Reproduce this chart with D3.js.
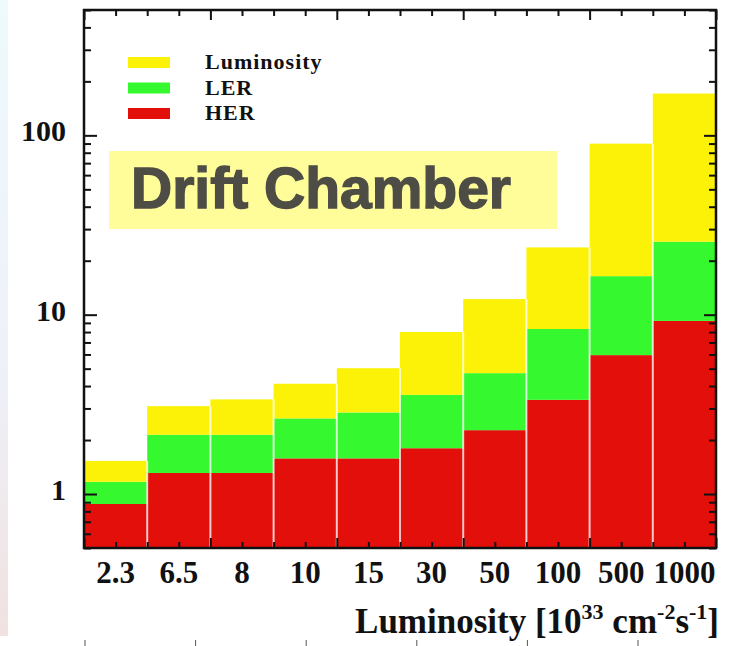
<!DOCTYPE html>
<html>
<head>
<meta charset="utf-8">
<style>
  body { margin: 0; background: #fff; }
  svg { display: block; }
  .serif { font-family: "Liberation Serif", "Times New Roman", serif; font-weight: bold; fill: #111; }
</style>
</head>
<body>
<svg width="729" height="646"></svg>
<script src="https://cdn.jsdelivr.net/npm/d3@7"></script>
<script>
// luminosity points (10^33 cm^-2 s^-1)
var categories = ["2.3", "6.5", "8", "10", "15", "30", "50", "100", "500", "1000"];
// contribution of each source, stacked HER -> LER -> Luminosity
var her  = [0.88, 1.31, 1.31, 1.58, 1.58, 1.80, 2.27, 3.35, 5.95, 9.23];
var ler  = [0.29, 0.83, 0.83, 1.06, 1.27, 1.77, 2.45, 4.97, 10.45, 16.3];
var lumi = [0.36, 0.95, 1.23, 1.48, 2.18, 4.44, 7.5, 15.4, 73.5, 145.5];
var yMajor = [1, 10, 100];
var seriesNames = ["HER", "LER", "Luminosity"];
var legendOrder = ["Luminosity", "LER", "HER"];

var colors = {HER: "#e20f0b", LER: "#35f82f", Luminosity: "#fbf208"};

var svg = d3.select("svg");
var pLeft = 84, pRight = 716, pTop = 10, pBottom = 548;

// screenshot leftovers: soft strip on the left and a ruler at the bottom
var grad = svg.append("defs").append("linearGradient")
    .attr("id", "strip").attr("x1", 0).attr("y1", 0).attr("x2", 0).attr("y2", 1);
grad.append("stop").attr("offset", "0%").attr("stop-color", "#eefafc");
grad.append("stop").attr("offset", "60%").attr("stop-color", "#eef0f8");
grad.append("stop").attr("offset", "100%").attr("stop-color", "#f0e2e0");
svg.append("rect").attr("x", 0).attr("y", 0).attr("width", 8).attr("height", 636)
    .attr("fill", "url(#strip)");
var ruler = d3.scaleLinear().domain([0, 5]).range([85, 638]);
svg.append("g").selectAll("line").data(d3.range(6)).enter().append("line")
    .attr("x1", function(d) { return ruler(d); }).attr("x2", function(d) { return ruler(d); })
    .attr("y1", 640).attr("y2", 646)
    .attr("stroke", "#555").attr("stroke-width", 1);

var data = categories.map(function(c, i) {
  return {cat: c, HER: her[i], LER: ler[i], Luminosity: lumi[i]};
});
var stacked = d3.stack().keys(seriesNames)(data);

var x = d3.scaleBand().domain(categories).range([pLeft, pRight]).padding(0);
var y = d3.scaleLog().domain([0.5, 500]).range([pBottom, pTop]).clamp(true);
var xt = d3.scaleLinear().domain([0, 20]).range([pLeft, pRight]);

// bars
svg.append("g").selectAll("g")
  .data(stacked)
  .enter().append("g")
    .attr("fill", function(d) { return colors[d.key]; })
  .selectAll("rect")
  .data(function(d) { return d; })
  .enter().append("rect")
    .attr("x", function(d) { return x(d.data.cat); })
    .attr("width", x.bandwidth())
    .attr("y", function(d) { return y(d[1]); })
    .attr("height", function(d) { return y(d[0]) - y(d[1]); });

// thin light gaps between neighbouring bars
var totals = stacked[stacked.length - 1];
svg.append("g").selectAll("line")
  .data(categories.slice(1))
  .enter().append("line")
    .attr("x1", function(d) { return x(d); })
    .attr("x2", function(d) { return x(d); })
    .attr("y1", pBottom)
    .attr("y2", function(d, i) { return y(Math.min(totals[i][1], totals[i + 1][1])); })
    .attr("stroke", "#fff").attr("stroke-opacity", 0.75).attr("stroke-width", 2);

// inward ticks on all four sides
var minor = y.ticks().filter(function(v) { return yMajor.indexOf(v) < 0; });
function ticksG(axis, tx) {
  var g = svg.append("g").attr("transform", tx).call(axis);
  g.select(".domain").remove();
  g.selectAll(".tick line").attr("stroke", "#111").attr("stroke-width", 2);
  return g;
}
ticksG(d3.axisLeft(y).tickValues(minor).tickSize(-7).tickFormat(""), "translate(" + pLeft + ",0)");
ticksG(d3.axisRight(y).tickValues(minor).tickSize(-7).tickFormat(""), "translate(" + pRight + ",0)");
ticksG(d3.axisRight(y).tickValues(yMajor).tickSize(-12).tickFormat(""), "translate(" + pRight + ",0)");
var yl = ticksG(d3.axisLeft(y).tickValues(yMajor).tickSize(-13).tickPadding(18).tickFormat(d3.format("d")),
    "translate(" + pLeft + ",0)");
yl.selectAll("text").attr("class", "serif").attr("font-size", 30).attr("dy", "5.5")
    .attr("font-family", null);

var xMinor = d3.range(21).filter(function(v) { return v % 4; });
var xMajor = d3.range(0, 21, 4);
ticksG(d3.axisBottom(xt).tickValues(xMinor).tickSize(-6).tickFormat(""), "translate(0," + pBottom + ")");
ticksG(d3.axisBottom(xt).tickValues(xMajor).tickSize(-10).tickFormat(""), "translate(0," + pBottom + ")");
ticksG(d3.axisTop(xt).tickValues(xMinor).tickSize(-6).tickFormat(""), "translate(0," + pTop + ")");
ticksG(d3.axisTop(xt).tickValues(xMajor).tickSize(-10).tickFormat(""), "translate(0," + pTop + ")");

var xl = svg.append("g").attr("transform", "translate(0," + pBottom + ")")
    .call(d3.axisBottom(x).tickSize(0).tickPadding(0));
xl.select(".domain").remove();
xl.selectAll("text").attr("class", "serif").attr("font-size", 31)
    .attr("font-family", null).attr("dy", null).attr("y", 35);

// frame
svg.append("rect").attr("x", pLeft).attr("y", pTop)
    .attr("width", pRight - pLeft).attr("height", pBottom - pTop)
    .attr("fill", "none").attr("stroke", "#111").attr("stroke-width", 2.5);

// axis title
var title = svg.append("text").attr("class", "serif").attr("font-size", 35)
    .attr("x", 719).attr("y", 633).attr("text-anchor", "end");
title.append("tspan").text("Luminosity [10");
title.append("tspan").attr("font-size", 22).attr("dy", -14).text("33");
title.append("tspan").attr("dy", 14).text(" cm");
title.append("tspan").attr("font-size", 22).attr("dy", -14).text("-2");
title.append("tspan").attr("dy", 14).text("s");
title.append("tspan").attr("font-size", 22).attr("dy", -14).text("-1");
title.append("tspan").attr("dy", 14).text("]");

// legend
var legend = svg.append("g").selectAll("g")
  .data(legendOrder)
  .enter().append("g")
    .attr("transform", function(d, i) { return "translate(128," + (57 + i * 25.5) + ")"; });
legend.append("rect").attr("width", 42).attr("height", 11)
    .attr("fill", function(d) { return colors[d]; });
legend.append("text").attr("class", "serif").attr("font-size", 22)
    .attr("letter-spacing", 1).attr("x", 77).attr("y", 12)
    .text(function(d) { return d; });

// label box
svg.append("rect").attr("x", 109).attr("y", 151).attr("width", 448).attr("height", 78)
    .attr("fill", "#fffc9a");
svg.append("text").attr("x", 131).attr("y", 208)
    .attr("font-family", "'Liberation Sans', Arial, sans-serif").attr("font-weight", "bold")
    .attr("font-size", 57).attr("fill", "#4e4d45")
    .attr("stroke", "#4e4d45").attr("stroke-width", 1.4)
    .text("Drift Chamber");
</script>
</body>
</html>
